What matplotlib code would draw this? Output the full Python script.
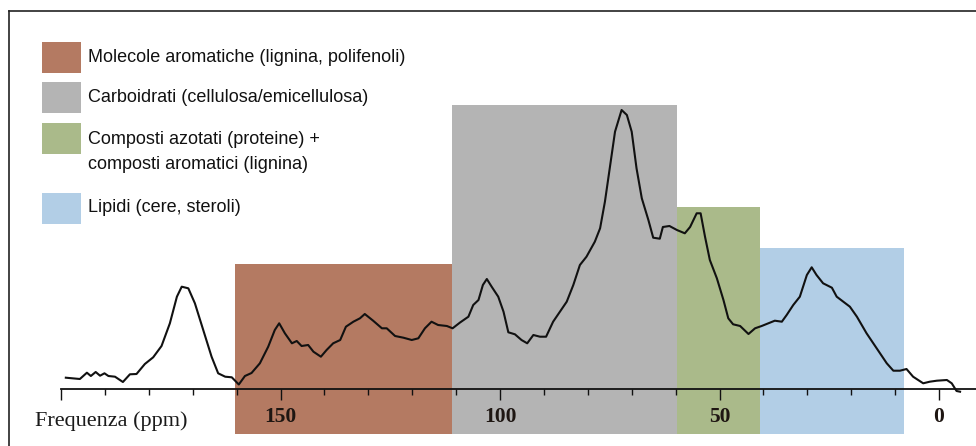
import matplotlib
matplotlib.use("Agg")
import matplotlib.pyplot as plt
from matplotlib import font_manager as fm
from matplotlib.patches import Rectangle
from matplotlib.lines import Line2D
from matplotlib.ticker import FixedLocator

# ---------------- data ----------------
ppm = [198.9, 195.7, 194.1, 193.2, 192.1, 191.1, 190.1, 189.2, 187.7, 185.9,
       184.3, 182.8, 180.9, 179.0, 177.1, 175.2, 173.6, 172.5, 171.0, 169.5,
       167.6, 165.7, 164.2, 162.6, 161.1, 159.5, 158.1, 156.6, 154.7, 152.8,
       151.3, 150.3, 149.0, 147.4, 146.3, 145.2, 143.7, 142.5, 140.8, 139.5,
       138.0, 136.4, 135.1, 133.4, 131.9, 130.8, 128.9, 126.9, 125.8, 123.9,
       122.0, 120.1, 118.6, 117.1, 115.6, 114.1, 112.1, 110.8, 109.1, 107.2,
       106.1, 104.9, 103.9, 103.0, 101.9, 100.4, 99.2, 98.1, 96.6, 95.1,
       93.8, 92.4, 90.9, 89.5, 87.9, 84.8, 83.3, 81.8, 80.3, 78.4,
       77.2, 76.1, 74.9, 73.8, 72.3, 71.1, 70.0, 68.9, 67.7, 66.2,
       65.1, 63.6, 62.9, 61.4, 59.7, 57.9, 56.7, 55.2, 54.3, 53.3,
       52.2, 50.6, 49.1, 48.0, 46.9, 45.3, 43.4, 41.9, 40.4, 38.9,
       37.4, 35.8, 34.7, 33.2, 31.7, 30.1, 29.0, 27.9, 26.4, 24.4,
       23.3, 21.8, 20.3, 18.7, 16.5, 14.2, 11.9, 10.4, 8.9, 7.4,
       5.9, 3.6, 2.1, 0.5, -1.8, -2.9, -4.0, -4.8]
intensity = [11.3, 10.0, 16.3, 13.0, 17.0, 13.3, 15.7, 13.0, 12.3, 7.0,
             14.7, 15.0, 25.0, 31.7, 43.0, 65.7, 92.3, 102.3, 100.7, 85.7,
             59.0, 32.3, 15.7, 12.3, 11.7, 4.5, 13.0, 16.0, 25.7, 42.3,
             59.0, 65.7, 55.7, 45.7, 48.0, 43.0, 44.0, 37.3, 32.3, 39.0,
             45.7, 49.0, 62.3, 67.3, 70.7, 75.0, 68.3, 60.7, 60.7, 53.0,
             51.3, 49.0, 50.7, 60.7, 67.3, 64.0, 63.0, 60.7, 66.5, 72.3,
             84.0, 89.0, 104.0, 110.0, 102.3, 92.3, 77.3, 56.7, 54.7, 49.0,
             45.7, 54.0, 52.3, 52.3, 67.3, 87.3, 104.0, 124.0, 132.3, 147.3,
             160.7, 187.3, 224.0, 257.3, 279.0, 274.0, 257.3, 220.7, 190.7, 169.0,
             151.3, 150.3, 162.0, 163.0, 159.0, 155.7, 162.0, 175.7, 175.7, 152.3,
             129.0, 110.7, 89.0, 70.7, 64.7, 63.0, 55.0, 60.7, 63.0, 65.7,
             68.3, 67.3, 74.0, 84.0, 92.3, 114.0, 121.7, 114.0, 105.7, 101.3,
             92.3, 87.3, 82.3, 72.3, 55.7, 40.7, 25.7, 18.3, 18.3, 20.0,
             12.3, 5.7, 7.3, 8.3, 9.0, 5.7, -2.0, -2.7]

region_labels = ["Molecole aromatiche (lignina, polifenoli)",
                 "Carboidrati (cellulosa/emicellulosa)",
                 "Composti azotati (proteine) +\ncomposti aromatici (lignina)",
                 "Lipidi (cere, steroli)"]
region_high = [160.3, 111.0, 59.6, 40.7]   # left edge (ppm)
region_low = [111.0, 59.6, 40.7, 8.0]      # right edge (ppm)
region_top = [125, 284, 182, 141]
region_colors = ["#b47a62", "#b4b4b4", "#aaba8a", "#b2cee6"]

major_ticks = [200, 150, 100, 50, 0]
major_labels = ["", "150", "100", "50", "0"]
x_label = "Frequenza (ppm)"

# ---------------- fonts ----------------
names = {f.name for f in fm.fontManager.ttflist}
legend_font = "Liberation Sans Narrow" if "Liberation Sans Narrow" in names else "Liberation Sans"
serif_font = "Liberation Serif" if "Liberation Serif" in names else "DejaVu Serif"

W, H = 976, 446
fig = plt.figure(figsize=(W / 100, H / 100), dpi=100)
fig.patch.set_facecolor("white")
ax = fig.add_axes([0, 0, 1, 1])
ax.set_facecolor("none")

# axes mapping: pixel x -> ppm = (939 - x)/4.39 ; pixel y -> 389 - y
ax.set_xlim((939 - 0) / 4.39, (939 - W) / 4.39)
ax.set_ylim(389 - H, 389)

bottom = -45
for hi, lo, top, col in zip(region_high, region_low, region_top, region_colors):
    ax.bar(lo, top - bottom, width=hi - lo, bottom=bottom, align="edge",
           color=col, edgecolor="none", zorder=1)

ax.plot(ppm, intensity, color="#111111", lw=1.5, zorder=3)

for s in ["top", "left", "right"]:
    ax.spines[s].set_visible(False)
ax.spines["bottom"].set_position(("data", 0))
ax.spines["bottom"].set_bounds(200, (939 - W) / 4.39)
ax.spines["bottom"].set_linewidth(1.3)
ax.spines["bottom"].set_color("#111111")
ax.spines["bottom"].set_zorder(4)
ax.yaxis.set_visible(False)
ax.xaxis.set_major_locator(FixedLocator(major_ticks))
ax.set_xticklabels(major_labels)
ax.xaxis.set_minor_locator(FixedLocator([v for v in range(200, -1, -10) if v % 50 != 0]))
ax.tick_params(axis="x", which="major", direction="out", length=8, width=1.0,
               color="#111111", pad=5, labelsize=15.5, labelcolor="#1e1612")
ax.tick_params(axis="x", which="minor", direction="out", length=4.3, width=1.0,
               color="#111111")
for lab in ax.get_xticklabels():
    lab.set_fontfamily(serif_font)
    lab.set_fontweight("bold")

fig.text(35 / W, 1 - 421 / H, x_label, ha="left", va="center",
         fontsize=16, family=serif_font, color="#1a1a1a")

# legend
sq_top = [41.7, 81.7, 122.7, 192.7]
txt_y = [57, 97, 152, 208]
for top, ty, col, lab in zip(sq_top, txt_y, region_colors, region_labels):
    fig.patches.append(Rectangle((42 / W, 1 - (top + 31) / H), 39 / W, 31 / H,
                                 transform=fig.transFigure, facecolor=col,
                                 edgecolor="none"))
    fig.text(88 / W, 1 - ty / H, lab, ha="left", va="center", fontsize=13,
             family=legend_font, color="#111111", linespacing=1.65)

# frame (top and left only)
fig.lines.append(Line2D([9 / W, 1], [1 - 11 / H, 1 - 11 / H], transform=fig.transFigure,
                        color="#222222", lw=1.2))
fig.lines.append(Line2D([9 / W, 9 / W], [1 - 11 / H, 0], transform=fig.transFigure,
                        color="#222222", lw=1.2))

fig.savefig("out.png", dpi=100)
